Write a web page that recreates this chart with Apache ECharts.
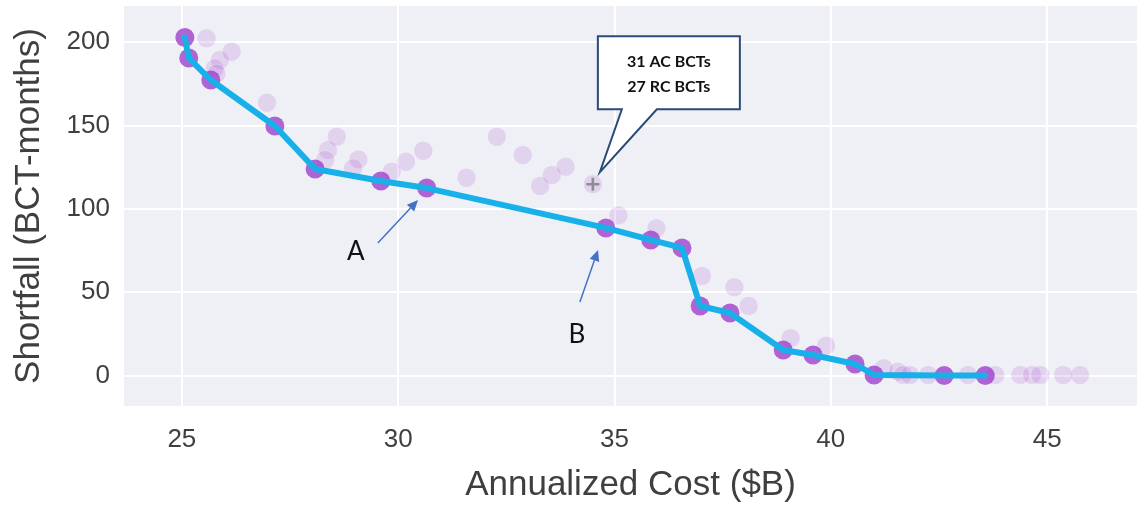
<!DOCTYPE html>
<html>
<head>
<meta charset="utf-8">
<script src="https://cdn.jsdelivr.net/npm/echarts@6/dist/echarts.min.js"></script>
<style>
html,body{margin:0;padding:0;background:#fff;}
#chart{width:1138px;height:505px;}
</style>
</head>
<body>
<div id="chart"></div>
<script>
// Pareto frontier (dark points joined by the line)
const frontierX = [25.07, 25.16, 25.67, 27.15, 28.08, 29.60, 30.66, 34.80, 35.84, 36.56, 36.98, 37.67, 38.90, 39.59, 40.56, 41.00, 42.62, 43.57];
const frontierY = [202.7, 190.4, 177.2, 149.6, 123.8, 116.6, 112.4, 88.5, 81.3, 76.5, 41.7, 37.5, 15.3, 12.3, 6.9, 0.3, 0, 0];
// Dominated solutions (light points)
const otherX = [25.57, 26.15, 25.88, 25.76, 25.80, 26.97, 28.58, 28.38, 28.31, 29.08, 28.96, 29.85, 30.18, 30.58, 31.58, 32.28, 32.88, 33.28, 33.55, 33.87, 34.50, 35.09, 35.97, 37.02, 37.77, 38.10, 39.07, 39.89, 41.22, 41.55, 41.67, 41.83, 42.25, 43.17, 43.80, 44.38, 44.65, 44.84, 45.37, 45.76];
const otherY = [202.2, 194.2, 189.2, 184.2, 181.0, 163.6, 143.2, 135.2, 129.2, 129.6, 124.3, 122.2, 128.2, 134.8, 118.6, 143.2, 132.2, 113.6, 120.2, 125.2, 114.7, 96.0, 88.3, 59.7, 52.9, 41.7, 22.3, 17.9, 4.3, 2.3, 0.3, 0.3, 0.3, 0.3, 0.3, 0.3, 0.3, 0.3, 0.3, 0.3];
// Highlighted solution with callout
const calloutPoint = [34.50, 114.7];
const calloutLines = ['31 AC BCTs', '27 RC BCTs'];
// Arrow annotations: [label, labelX, labelY, fromX, fromY, toX, toY]
const arrowNotes = [
  ['A', 29.02, 74.0, 29.53, 79.5, 30.46, 105.2],
  ['B', 34.13, 24.3, 34.20, 44.1, 34.62, 75.3]
];
const xTitle = 'Annualized Cost ($B)';
const yTitle = 'Shortfall (BCT-months)';

const chart = echarts.init(document.getElementById('chart'));
const FONT = '"Liberation Sans", Arial, sans-serif';
const TXT = '#3f3f3f';
const option = {
  animation: false,
  backgroundColor: '#ffffff',
  grid: {left: 123, right: 0, top: 5, bottom: 98, show: true, backgroundColor: '#eef0f5', borderWidth: 0,
    containLabel: false, outerBoundsMode: 'none'},
  xAxis: {
    type: 'value', min: 23.64, max: 47.1,
    name: xTitle, nameLocation: 'middle', nameGap: 61,
    nameTextStyle: {fontSize: 35, color: TXT, fontFamily: FONT},
    axisLine: {show: false}, axisTick: {show: false},
    axisLabel: {fontSize: 26, color: TXT, fontFamily: FONT, margin: 20, showMinLabel: false, showMaxLabel: false,
      formatter: v => (v % 5 === 0 ? String(v) : '')},
    splitLine: {lineStyle: {color: '#ffffff', width: 2}}
  },
  yAxis: {
    type: 'value', min: -18.9, max: 222.2,
    name: yTitle, nameLocation: 'middle', nameGap: 76,
    nameTextStyle: {fontSize: 35, color: TXT, fontFamily: FONT},
    axisLine: {show: false}, axisTick: {show: false},
    axisLabel: {fontSize: 26, color: TXT, fontFamily: FONT, margin: 13, showMinLabel: false, showMaxLabel: false,
      formatter: v => (v % 50 === 0 ? String(v) : '')},
    splitLine: {lineStyle: {color: '#ffffff', width: 2}}
  },
  series: [
    {
      type: 'scatter', z: 1, symbolSize: 19,
      data: otherX.map((x, i) => [x, otherY[i]]),
      itemStyle: {color: 'rgba(160,64,204,0.2)', borderColor: 'rgba(255,255,255,0.35)', borderWidth: 1}
    },
    {
      type: 'scatter', z: 2, symbolSize: 19,
      data: frontierX.map((x, i) => [x, frontierY[i]]),
      itemStyle: {color: '#a040cc'}
    },
    {
      type: 'line', z: 3, symbol: 'none',
      data: frontierX.map((x, i) => [x, frontierY[i]]),
      lineStyle: {color: '#18b0e8', width: 6, join: 'round', cap: 'round'}
    },
    {
      type: 'scatter', z: 4, symbolSize: 13,
      symbol: 'path://M4,0 L6,0 L6,4 L10,4 L10,6 L6,6 L6,10 L4,10 L4,6 L0,6 L0,4 L4,4 Z',
      data: [calloutPoint],
      itemStyle: {color: '#7a7a80'}
    }
  ]
};
chart.setOption(option);

// Annotations anchored to data coordinates
const g = [];
const ARROW = '#4472c4';
arrowNotes.forEach(n => {
  const lp = chart.convertToPixel({gridIndex: 0}, [n[1], n[2]]);
  const a = chart.convertToPixel({gridIndex: 0}, [n[3], n[4]]);
  const b = chart.convertToPixel({gridIndex: 0}, [n[5], n[6]]);
  const ang = Math.atan2(b[1] - a[1], b[0] - a[0]);
  const hl = 11, hw = 5;
  const bx = b[0] - hl * Math.cos(ang), by = b[1] - hl * Math.sin(ang);
  g.push({type: 'line', z: 100, shape: {x1: a[0], y1: a[1], x2: bx, y2: by}, style: {stroke: ARROW, lineWidth: 1.5}});
  g.push({type: 'polygon', z: 100, shape: {points: [
    [b[0], b[1]],
    [bx + hw * Math.sin(ang), by - hw * Math.cos(ang)],
    [bx - hw * Math.sin(ang), by + hw * Math.cos(ang)]
  ]}, style: {fill: ARROW}});
  g.push({type: 'text', z: 100, x: lp[0], y: lp[1], style: {text: n[0], fontSize: 26, fontFamily: 'Lato, "Open Sans", sans-serif', fill: '#111', align: 'center', verticalAlign: 'middle'}});
});
const p = chart.convertToPixel({gridIndex: 0}, calloutPoint);
const tip = [p[0] + 7, p[1] - 12];
const L = tip[0] - 2, R = tip[0] + 140, T = tip[1] - 136, B = tip[1] - 63;
g.push({type: 'polygon', z: 90, shape: {points: [[L, T], [R, T], [R, B], [tip[0] + 57, B], tip, [tip[0] + 22, B], [L, B]]},
  style: {fill: '#ffffff', stroke: '#2b4a78', lineWidth: 2, lineJoin: 'miter'}});
calloutLines.forEach((t, i) => {
  g.push({type: 'text', z: 95, x: (L + R) / 2, y: T + 26 + i * 25, style: {text: t, fontSize: 16, fontWeight: 'bold', fontFamily: 'Lato, "Open Sans", sans-serif', fill: '#111', align: 'center', verticalAlign: 'middle'}});
});
chart.setOption({graphic: g});
</script>
</body>
</html>
